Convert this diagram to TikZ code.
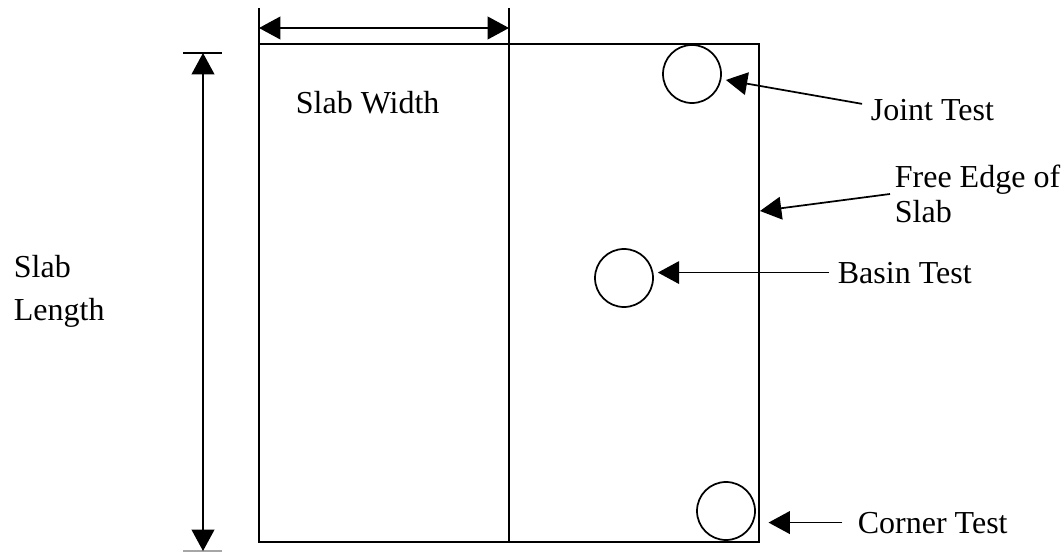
\documentclass[tikz,border=0pt]{standalone}
\usepackage{fontspec}
\setmainfont{Liberation Serif}
\usetikzlibrary{arrows.meta}
\tikzset{
  testspot/.style={draw, circle, minimum size=43.5pt, inner sep=0pt},
  lbl/.style={inner sep=3pt, font=\fontsize{24}{29}\selectfont},
  pointer/.style={-{Triangle[length=16pt,width=17pt]}},
  dimline/.style={{Triangle[length=16pt,width=17pt]}-{Triangle[length=16pt,width=17pt]}},
}
\begin{document}
\begin{tikzpicture}[x=0.75pt, y=-0.75pt, line width=1.3pt]
            \useasboundingbox (0,0) rectangle (1063,552);
            % slab outline and joint
            \draw (259,44) rectangle (759,542);
            \draw (259,8) -- (259,44);
            \draw (509,8) -- (509,542);
            % dimension arrows
            \coordinate (wleft) at (259,28);
            \coordinate (wright) at (509,28);
            \coordinate (ltop) at (203,53);
            \coordinate (lbot) at (203,551);
            \draw[dimline] (wleft) -- (wright);
            \draw (183,53) -- (222,53);
            \draw[gray!70] (183,551) -- (222,551);
            \draw[dimline] (ltop) -- (lbot);
            \node[lbl, anchor=base west] (widthlbl) at (291,114) {Slab Width};
            \node[lbl, anchor=west, align=left, font=\fontsize{24}{32.25}\selectfont] (lengthlbl) at (9,291) {Slab\\Length};
            % test locations
            \node[testspot] (joint) at (692,74) {};
            \node[testspot] (basin) at (624,278) {};
            \node[testspot] (corner) at (726,511) {};
            \coordinate (freeedge) at (760,211);
            % labels
            \node[lbl, anchor=base west] (jointlbl) at (866,121) {Joint Test};
            \node[lbl, anchor=west, align=left, font=\fontsize{24}{26.25}\selectfont] (edgelbl) at (890,194) {Free Edge of\\Slab};
            \node[lbl, anchor=base west] (basinlbl) at (833,283) {Basin Test};
            \node[lbl, anchor=base west] (cornerlbl) at (853,533) {Corner Test};
            % pointers
            \draw[pointer, shorten <=3pt, shorten >=3.4pt] ([yshift=4.5pt]jointlbl.west) -- (joint);
            \draw[pointer] (edgelbl.west) -- (freeedge);
            \draw[pointer, shorten <=3pt, shorten >=3pt] (basinlbl.west) -- (basinlbl.west -| basin.east);
            \draw[pointer, shorten <=8pt, shorten >=9.5pt] (cornerlbl.west) -- (cornerlbl.west -| corner.east);
\end{tikzpicture}
\end{document}
